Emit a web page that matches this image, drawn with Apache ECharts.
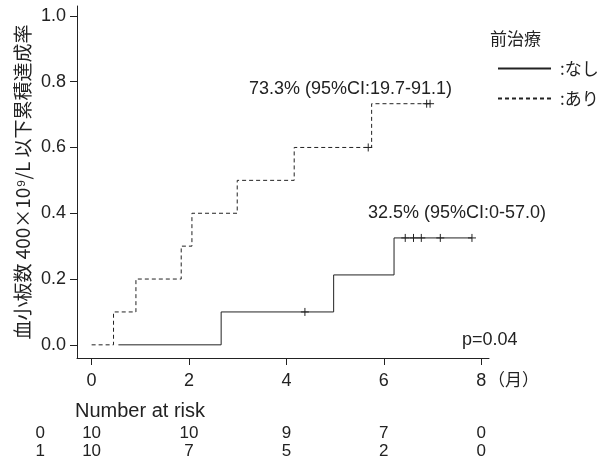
<!DOCTYPE html>
<html><head><meta charset="utf-8">
<script src="https://cdn.jsdelivr.net/npm/echarts@6/dist/echarts.min.js"></script>
<style>html,body{margin:0;padding:0;background:#fff}#c{width:606px;height:465px}</style>
</head><body><div id="c"></div>
<script>
// Data
var timeNashi = [0.55, 2.66, 4.97, 6.21, 7.81];
var cumNashi  = [0, 0.1, 0.2125, 0.325, 0.325];
var timeAri   = [0, 0.45, 0.91, 1.84, 2.06, 2.99, 4.16, 5.75, 6.95];
var cumAri    = [0, 0.1, 0.2, 0.3, 0.4, 0.5, 0.6, 0.733, 0.733];
var censTimeNashi = [4.38, 6.44, 6.61, 6.77, 7.16, 7.81];
var censCumNashi  = [0.1, 0.325, 0.325, 0.325, 0.325, 0.325];
var censTimeAri   = [5.68, 6.88, 6.95];
var censCumAri    = [0.6, 0.733, 0.733];
var xTicks = [0, 2, 4, 6, 8];
var yTicks = [0, 0.2, 0.4, 0.6, 0.8, 1.0];
var riskGroups = ['0', '1'];
var riskNashi = [10, 10, 9, 7, 0];
var riskAri   = [10, 7, 5, 2, 0];
var seriesNames = [':なし', ':あり'];

var FONT = "'Liberation Sans', 'Noto Sans CJK JP', sans-serif";
var JFONT = "'Noto Sans CJK JP', sans-serif";
var INK = '#222';

function pairs(xs, ys){ return xs.map(function(x,i){ return [x, ys[i]]; }); }
function riskData(vals, g){ return vals.map(function(v,i){ return [xTicks[i], g, v]; }); }

function censorRender(params, api){
  var p = api.coord([api.value(0), api.value(1)]);
  var h = 4;
  return {type:'group', children:[
    {type:'line', shape:{x1:p[0]-h, y1:p[1], x2:p[0]+h, y2:p[1]}, style:{stroke:INK, lineWidth:1}},
    {type:'line', shape:{x1:p[0], y1:p[1]-h, x2:p[0], y2:p[1]+h}, style:{stroke:INK, lineWidth:1}}
  ]};
}

var riskLabel = {show:true, position:'inside', fontSize:17, color:INK, fontFamily:FONT, opacity:1,
  formatter:function(p){ return String(p.value[2]); }};

var chart = echarts.init(document.getElementById('c'), null, {renderer:'canvas'});
chart.setOption({
  backgroundColor:'#fff',
  animation:false,
  textStyle:{fontFamily:FONT, color:INK},
  grid:[
    {left:77, right:117, top:6, bottom:107, containLabel:false},
    {left:77, right:117, top:424, height:36, containLabel:false}
  ],
  xAxis:[
    {type:'value', gridIndex:0, min:-0.3, max:8.16,
     axisLine:{show:true, onZero:false, lineStyle:{color:INK, width:1}},
     axisTick:{show:true, length:7, customValues:xTicks, lineStyle:{color:INK}},
     axisLabel:{show:true, customValues:xTicks, margin:14, fontSize:18, color:INK, fontFamily:FONT},
     splitLine:{show:false}},
    {type:'value', gridIndex:1, min:-0.3, max:8.16, show:false}
  ],
  yAxis:[
    {type:'value', gridIndex:0, min:-0.04, max:1.03,
     name:'血小板数 400×10⁹/L 以下累積達成率', nameLocation:'middle', nameRotate:90, nameGap:45,
     nameMoveOverlap:false,
     nameTextStyle:{fontSize:19, color:INK, fontFamily:JFONT},
     axisLine:{show:true, onZero:false, lineStyle:{color:INK, width:1}},
     axisTick:{show:true, length:7, customValues:yTicks, lineStyle:{color:INK}},
     axisLabel:{show:true, customValues:yTicks, margin:11, fontSize:18, color:INK, fontFamily:FONT,
       formatter:function(v){ return v.toFixed(1); }},
     splitLine:{show:false}},
    {type:'category', gridIndex:1, data:riskGroups, inverse:true,
     axisLine:{show:false}, axisTick:{show:false}, splitLine:{show:false},
     axisLabel:{interval:0, margin:32, fontSize:17, color:INK, fontFamily:FONT}}
  ],
  legend:{
    orient:'vertical', left:492, top:55, itemWidth:53, itemHeight:14, itemGap:13,
    data:seriesNames, itemStyle:{opacity:0},
    textStyle:{fontSize:17, color:INK, fontFamily:JFONT, padding:[0,0,0,4]}
  },
  series:[
    {name:seriesNames[0], type:'line', step:'end', symbol:'none', xAxisIndex:0, yAxisIndex:0,
     data:pairs(timeNashi, cumNashi), lineStyle:{color:INK, width:1, type:'solid'}, itemStyle:{color:INK}},
    {name:seriesNames[1], type:'line', step:'end', symbol:'none', xAxisIndex:0, yAxisIndex:0,
     data:pairs(timeAri, cumAri), lineStyle:{color:INK, width:1, type:[4,3]}, itemStyle:{color:INK}},
    {name:'censNashi', type:'custom', xAxisIndex:0, yAxisIndex:0, renderItem:censorRender,
     data:pairs(censTimeNashi, censCumNashi), z:3},
    {name:'censAri', type:'custom', xAxisIndex:0, yAxisIndex:0, renderItem:censorRender,
     data:pairs(censTimeAri, censCumAri), z:3},
    {name:'risk0', type:'scatter', xAxisIndex:1, yAxisIndex:1, symbolSize:0, itemStyle:{opacity:1},
     data:riskData(riskNashi, riskGroups[0]), label:riskLabel},
    {name:'risk1', type:'scatter', xAxisIndex:1, yAxisIndex:1, symbolSize:0, itemStyle:{opacity:1},
     data:riskData(riskAri, riskGroups[1]), label:riskLabel}
  ],
  graphic:[
    {type:'text', left:249, top:80, style:{text:'73.3% (95%CI:19.7-91.1)', font:'18px ' + FONT, fill:INK}},
    {type:'text', left:368, top:204, style:{text:'32.5% (95%CI:0-57.0)', font:'18px ' + FONT, fill:INK}},
    {type:'text', left:462, top:331, style:{text:'p=0.04', font:'18px ' + FONT, fill:INK}},
    {type:'text', left:75, top:401, style:{text:'Number at risk', font:'20px ' + FONT, fill:INK}},
    {type:'text', left:490, top:30, style:{text:'前治療', font:"17px " + JFONT, fill:INK}},
    {type:'text', left:488, top:371, style:{text:'（月）', font:"17px " + JFONT, fill:INK}}
  ]
});
</script>
</body></html>
